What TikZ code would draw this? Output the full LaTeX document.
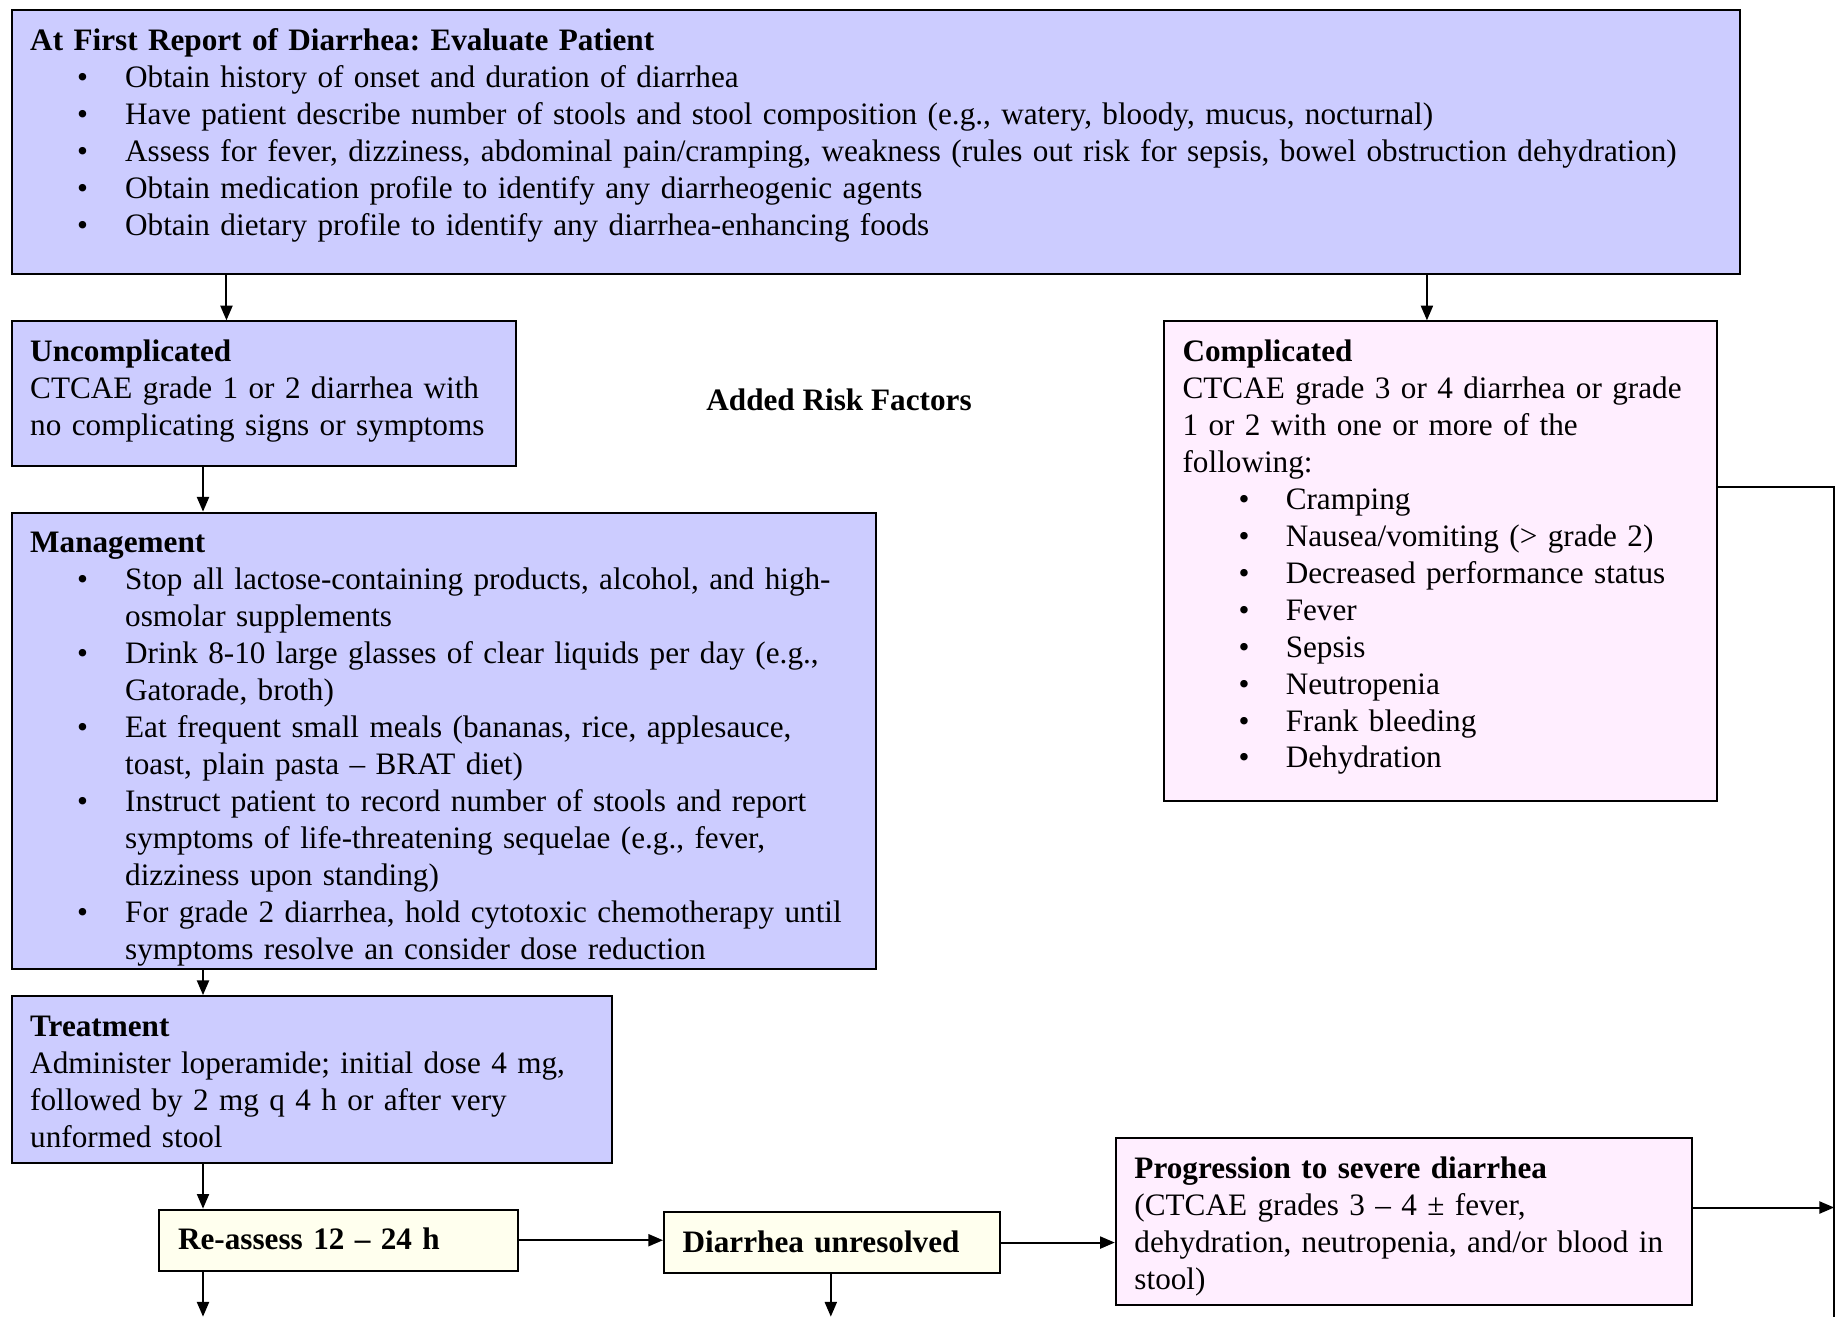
\documentclass[tikz,border=0pt]{standalone}
\usepackage{fontspec}
\setmainfont{Liberation Serif}
\usepackage{xcolor}
\usepackage{tikz}
\usetikzlibrary{arrows.meta}
\definecolor{color1}{HTML}{CCCCFF}
\definecolor{color2}{HTML}{FFEEFF}
\definecolor{color3}{HTML}{FFFFEE}
\frenchspacing
\hyphenpenalty=10000

\newlength{\bulpos}\setlength{\bulpos}{17.6pt}
\newlength{\bultext}\setlength{\bultext}{35.6pt}
\newcommand{\bul}[1]{\par\hangindent=\bultext\hangafter=1\noindent\makebox[\bultext][l]{\hspace{\bulpos}\textbullet}#1\par}

\tikzset{
	panel/.style={draw, line width=0.75pt, anchor=north west, align=left, inner xsep=7pt, inner ysep=6pt, text height=9pt, font=\fontsize{11.7}{13.86}\selectfont},
	arr/.style={line width=0.75pt, -{Triangle[length=5.5pt,width=4.5pt]}},
}

\begin{document}
\begin{tikzpicture}[x=0.44pt, y=-0.44pt]
				\useasboundingbox (0,0) rectangle (1568,1122);
				
				\node[panel, fill=color1, text width=634.1pt, text depth=78pt] (eval) at (9,8)
					{\textbf{At First Report of Diarrhea: Evaluate Patient}
					\bul{Obtain history of onset and duration of diarrhea}
					\bul{Have patient describe number of stools and stool composition (e.g., watery, bloody, mucus, nocturnal)}
					\bul{Assess for fever, dizziness, abdominal pain/cramping, weakness (rules out risk for sepsis, bowel obstruction dehydration)}
					\bul{Obtain medication profile to identify any diarrheogenic agents}
					\bul{Obtain dietary profile to identify any diarrhea-enhancing foods}};
				
				\node[panel, fill=color1, text width=175.2pt, text depth=33.1pt] (uncomp) at (9,273)
					{\textbf{Uncomplicated}\newline CTCAE grade 1 or 2 diarrhea with\newline no complicating signs or symptoms};
				
				\node[font=\bfseries\fontsize{11.7}{13.86}\selectfont] (risk) at (715,341) {Added Risk Factors};
				
				\node[panel, fill=color2, text width=193.2pt, text depth=159pt] (comp) at (991,273)
					{\setlength{\bulpos}{21pt}\setlength{\bultext}{38.7pt}%
					\textbf{Complicated}\newline CTCAE grade 3 or 4 diarrhea or grade\newline 1 or 2 with one or more of the\newline following:
					\bul{Cramping}
					\bul{Nausea/vomiting (> grade 2)}
					\bul{Decreased performance status}
					\bul{Fever}
					\bul{Sepsis}
					\bul{Neutropenia}
					\bul{Frank bleeding}
					\bul{Dehydration}};
				
				\begin{scope}
					\clip (0,430) rectangle (760,826.5);
					\node[panel, fill=color1, text width=310.3pt, text depth=150.2pt] (mgmt) at (9,436)
						{\textbf{Management}
						\bul{Stop all lactose-containing products, alcohol, and high-\newline osmolar supplements}
						\bul{Drink 8-10 large glasses of clear liquids per day (e.g.,\newline Gatorade, broth)}
						\bul{Eat frequent small meals (bananas, rice, applesauce,\newline toast, plain pasta -- BRAT diet)}
						\bul{Instruct patient to record number of stools and report\newline symptoms of life-threatening sequelae (e.g., fever,\newline dizziness upon standing)}
						\bul{For grade 2 diarrhea, hold cytotoxic chemotherapy until\newline symptoms resolve an consider dose reduction}};
				\end{scope}
				
				\node[panel, fill=color1, text width=211.3pt, text depth=41.5pt] (treat) at (9,848)
					{\textbf{Treatment}\newline Administer loperamide; initial dose 4 mg,\newline followed by 2 mg q 4 h or after very\newline unformed stool};
				
				\node[panel, fill=color3, text width=120.6pt, text depth=1.9pt] (reassess) at (135,1030)
					{\textbf{Re-assess 12 -- 24 h}};
				\node[panel, fill=color3, text width=111.8pt, text depth=1.9pt] (unresolved) at (565,1032)
					{\textbf{Diarrhea unresolved}};
				\node[panel, fill=color2, text width=202pt, text depth=41.5pt] (progression) at (950,969)
					{\textbf{Progression to severe diarrhea}\newline (CTCAE grades 3 -- 4 ± fever,\newline dehydration, neutropenia, and/or blood in\newline stool)};
				
				\coordinate (colA) at (173,0);
				\coordinate (colB) at (193,0);
				\coordinate (colC) at (1216,0);
				\coordinate (colD) at (708,0);
				\coordinate (exitA) at (173,1122);
				\coordinate (exitD) at (708,1122);
				\coordinate (railtop) at (1563,415);
				\coordinate (railin) at (1563,1029);
				\coordinate (railend) at (1563,1122);
				
				\draw[arr] (eval.south -| colB) -- (uncomp.north -| colB);
				\draw[arr] (eval.south -| colC) -- (comp.north -| colC);
				\draw[arr] (uncomp.south -| colA) -- (mgmt.north -| colA);
				\draw[arr] (mgmt.south -| colA) -- (treat.north -| colA);
				\draw[arr] (treat.south -| colA) -- (reassess.north -| colA);
				\draw[arr] (reassess.south -| colA) -- (exitA);
				\draw[arr] (reassess.east) -- (reassess.east -| unresolved.west);
				\draw[arr] (unresolved.south -| colD) -- (exitD);
				\draw[arr] (unresolved.east) -- (unresolved.east -| progression.west);
				\draw[arr] (railin -| progression.east) -- (railin);
				\draw[line width=0.75pt] (railtop -| comp.east) -- (railtop) -- (railend);
			\end{tikzpicture}
\end{document}
